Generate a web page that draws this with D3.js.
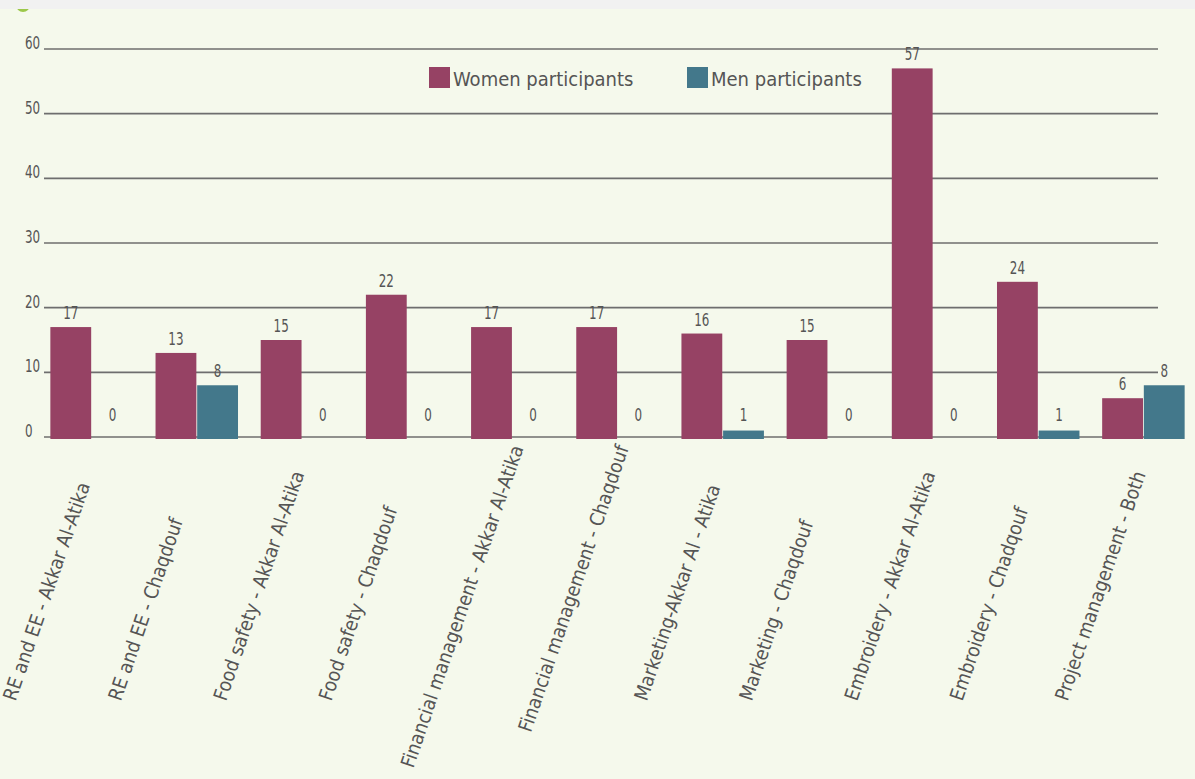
<!DOCTYPE html>
<html>
<head>
<meta charset="utf-8">
<script src="https://cdn.jsdelivr.net/npm/d3@7"></script>
<style>
  html, body { margin: 0; padding: 0; background: #f5f9ec; }
  svg { display: block; }
  text { font-family: "Liberation Sans Narrow", "DejaVu Sans Condensed", "Liberation Sans", sans-serif; fill: #555; }
</style>
</head>
<body>
<div id="viz"></div>
<script>
const categories = [
  "RE and EE - Akkar Al-Atika",
  "RE and EE - Chaqdouf",
  "Food safety - Akkar Al-Atika",
  "Food safety - Chaqdouf",
  "Financial management - Akkar Al-Atika",
  "Financial management - Chaqdouf",
  "Marketing-Akkar Al - Atika",
  "Marketing - Chaqdouf",
  "Embroidery - Akkar Al-Atika",
  "Embroidery - Chadqouf",
  "Project management - Both"
];
const women = [17, 13, 15, 22, 17, 17, 16, 15, 57, 24, 6];
const men = [0, 8, 0, 0, 0, 0, 1, 0, 0, 1, 8];
const seriesNames = ["Women participants", "Men participants"];
const seriesColors = ["#964264", "#43788b"];
const yTicks = [0, 10, 20, 30, 40, 50, 60];

const width = 1195, height = 779;
const svg = d3.select("#viz").append("svg")
  .attr("width", width)
  .attr("height", height);

// background + top strip (title cut off above)
svg.append("rect").attr("width", width).attr("height", height).attr("fill", "#f5f9ec");
svg.append("circle").attr("cx", 23).attr("cy", 5).attr("r", 7).attr("fill", "#9cc84a");
svg.append("rect").attr("width", width).attr("height", 9).attr("fill", "#f1f1f1");

const gridLeft = 44, gridRight = 1158;
const y = d3.scaleLinear().domain([0, 60]).range([437, 49]);

const x0 = d3.scaleBand().domain(categories).range([39, 1196])
  .paddingInner(0.2).paddingOuter(0.1);
const x1 = d3.scaleBand().domain(seriesNames).range([0, x0.bandwidth()]).padding(0.02);

// condensed number style
const narrow = (sel, x, yy) => sel.attr("transform", `translate(${x},${yy}) scale(0.78,1)`);

// gridlines + tick labels
const grid = svg.append("g");
grid.selectAll("line").data(yTicks).join("line")
  .attr("x1", gridLeft).attr("x2", gridRight)
  .attr("y1", d => y(d)).attr("y2", d => y(d))
  .attr("stroke", "#6e6e6e").attr("stroke-width", 1.7);
grid.selectAll("text").data(yTicks).join("text")
  .attr("font-size", 17)
  .each(function(d) { narrow(d3.select(this), 25, y(d)); })
  .text(d => d);

// bars
const rows = categories.map((c, i) => ({ cat: c, vals: [women[i], men[i]] }));
const groups = svg.append("g").selectAll("g").data(rows).join("g")
  .attr("transform", d => `translate(${x0(d.cat)},0)`);

groups.selectAll("rect").data(d => d.vals.map((v, j) => ({ v, s: seriesNames[j], j })))
  .join("rect")
  .filter(d => d.v > 0)
  .attr("x", d => x1(d.s))
  .attr("width", x1.bandwidth())
  .attr("y", d => y(d.v))
  .attr("height", d => y(0) - y(d.v) + 2)
  .attr("fill", d => seriesColors[d.j]);

groups.selectAll("text").data(d => d.vals.map((v, j) => ({ v, s: seriesNames[j], j })))
  .join("text")
  .attr("text-anchor", "middle")
  .attr("font-size", 17)
  .each(function(d) {
    narrow(d3.select(this), x1(d.s) + x1.bandwidth() / 2, Math.min(y(d.v) - 8, y(0) - 16));
  })
  .text(d => d.v);

// legend
const legend = svg.append("g");
const legendX = [429, 687];
seriesNames.forEach((name, i) => {
  legend.append("rect")
    .attr("x", legendX[i]).attr("y", 67)
    .attr("width", 21).attr("height", 21)
    .attr("fill", seriesColors[i]);
  legend.append("text")
    .attr("x", legendX[i] + 24).attr("y", 86)
    .attr("font-size", 20)
    .text(name);
});

// rotated category labels
const angle = 71, rad = angle * Math.PI / 180;
const sinA = Math.sin(rad), cosA = Math.cos(rad);
svg.append("g").selectAll("text").data(categories).join("text")
  .attr("font-size", 19.5)
  .text(d => d)
  .each(function(d) {
    const L = this.getComputedTextLength();
    const cx = x0(d) + x0.bandwidth() / 2;
    const ys = Math.max(702, 448 + L * sinA);
    const xs = cx - 76 - (ys - 702) * cosA / sinA;
    d3.select(this).attr("transform", `translate(${xs},${ys}) rotate(${-angle})`);
  });
</script>
</body>
</html>
